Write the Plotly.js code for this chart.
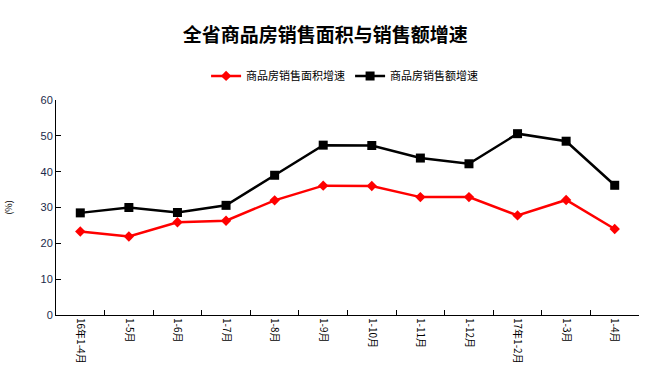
<!DOCTYPE html>
<html><head><meta charset="utf-8">
<script src="https://cdn.plot.ly/plotly-3.0.1.min.js"></script>
<style>html,body{margin:0;padding:0;background:#fff}#c{width:661px;height:378px}</style>
</head><body><div id="c"></div>
<script>
const categories = ["16年1-4月","1-5月","1-6月","1-7月","1-8月","1-9月","1-10月","1-11月","1-12月","17年1-2月","1-3月","1-4月"];
const areaGrowth = [23.3, 21.9, 25.9, 26.3, 32.0, 36.1, 36.0, 32.9, 32.9, 27.8, 32.1, 24.0];
const salesGrowth = [28.5, 30.0, 28.6, 30.6, 39.0, 47.4, 47.3, 43.8, 42.2, 50.6, 48.5, 36.2];
const seriesNames = ["商品房销售面积增速","商品房销售额增速"];
const fontFam = "'Noto Sans CJK SC', 'DejaVu Sans', sans-serif";
const traces = [
  {x: categories, y: areaGrowth, name: seriesNames[0], type: "scatter", mode: "lines+markers",
   line: {color: "#ff0000", width: 2.5}, marker: {symbol: "diamond", size: 8, color: "#ff0000"}},
  {x: categories, y: salesGrowth, name: seriesNames[1], type: "scatter", mode: "lines+markers",
   line: {color: "#000000", width: 2.5}, marker: {symbol: "square", size: 9, color: "#000000"}}
];
const layout = {
  width: 661, height: 378,
  margin: {l: 56, r: 22, t: 100, b: 63},
  paper_bgcolor: "#fff", plot_bgcolor: "#fff",
  font: {family: fontFam, size: 11, color: "#000"},
  title: {text: "<b>全省商品房销售面积与销售额增速</b>", x: 0.492, xanchor: "center", y: 0.907, yanchor: "middle",
          font: {family: fontFam, size: 19, color: "#000"}},
  showlegend: true,
  legend: {orientation: "h", x: 0.495, xanchor: "center", y: 1.112, yanchor: "middle",
           font: {family: fontFam, size: 11, color: "#000"}, traceorder: "normal", itemwidth: 30},
  xaxis: {type: "category", range: [-0.5, 11.5], autorange: false, showline: true, linecolor: "#000", linewidth: 1,
          ticks: "inside", ticklen: 5, tickson: "boundaries", tickcolor: "#000", tickangle: 90,
          showgrid: false, zeroline: false,
          tickfont: {family: fontFam, size: 10, color: "#000"}},
  yaxis: {range: [0, 60], autorange: false, dtick: 10, showline: true, linecolor: "#000", linewidth: 1,
          ticks: "inside", ticklen: 5, tickcolor: "#000", showgrid: false, zeroline: false,
          tickfont: {family: "'Liberation Sans', sans-serif", size: 11, color: "#1a2a4a"},
          title: {text: "(%)", standoff: 26, font: {family: fontFam, size: 9, color: "#000"}}}
};
Plotly.newPlot("c", traces, layout, {displayModeBar: false, staticPlot: true});
</script></body></html>
